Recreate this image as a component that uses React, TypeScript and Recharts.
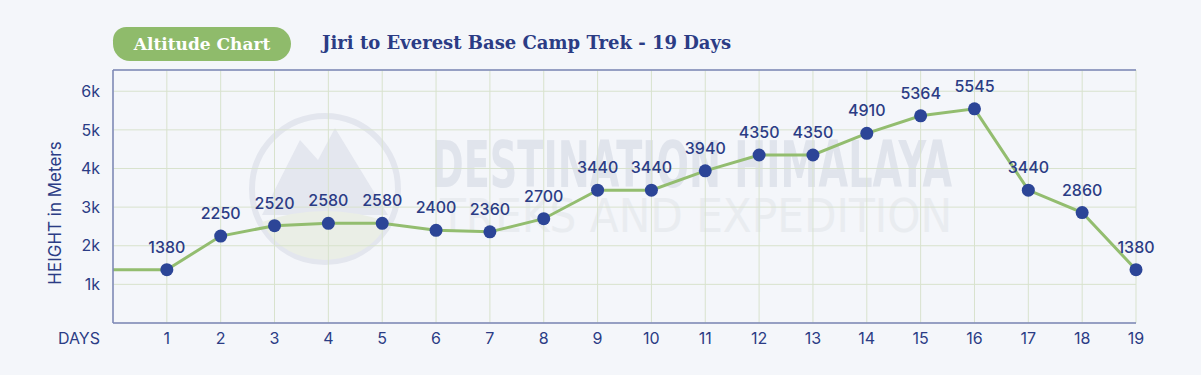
import React from "react";
import {
  LineChart,
  Line,
  XAxis,
  YAxis,
  CartesianGrid,
  ReferenceLine,
  LabelList,
} from "recharts";

// day 0 is only there so the line starts at the left edge, like the original
const DAYS = [0, 1, 2, 3, 4, 5, 6, 7, 8, 9, 10, 11, 12, 13, 14, 15, 16, 17, 18, 19];
const ALTITUDES = [
  1380, 1380, 2250, 2520, 2580, 2580, 2400, 2360, 2700, 3440, 3440, 3940, 4350,
  4350, 4910, 5364, 5545, 3440, 2860, 1380,
];
const DAY_TICKS = [1, 2, 3, 4, 5, 6, 7, 8, 9, 10, 11, 12, 13, 14, 15, 16, 17, 18, 19];
const HEIGHT_TICKS = [1000, 2000, 3000, 4000, 5000, 6000];
const Y_MAX = 6550;

const data = DAYS.map((day, i) => ({ day, altitude: ALTITUDES[i] }));

const NAVY = "#2b3c85";
const DOT = "#2c4597";
const GREEN = "#93bd6f";
const GRID = "#d8e2cd";
const AXIS = "#7b86b8";
const BG = "#f4f6fa";
const FONT = "Inter, 'Noto Sans', sans-serif";

const renderDot = (props: any) => {
  const { cx, cy, payload, index } = props;
  if (payload.day === 0) return <g key={`d${index}`} />;
  return <circle key={`d${index}`} cx={cx} cy={cy} r={6.5} fill={DOT} />;
};

const renderLabel = (props: any) => {
  const { x, y, value, index } = props;
  if (index === 0) return null;
  return (
    <text
      x={x}
      y={y - 17}
      textAnchor="middle"
      fontSize={16}
      fontWeight={500}
      fill={NAVY}
      fontFamily={FONT}
    >
      {value}
    </text>
  );
};

function Watermark() {
  return (
    <svg
      width={1201}
      height={375}
      style={{ position: "absolute", left: 0, top: 0 }}
    >
      <circle cx={325} cy={189} r={73} fill="none" stroke="#e3e6ee" strokeWidth={6} />
      <path
        d="M262 215 L300 140 L318 160 L335 128 L388 215 Z"
        fill="#e4e7ef"
      />
      <path d="M262 222 Q325 200 388 222 Q370 258 325 260 Q280 258 262 222 Z" fill="#eaeee6" />
      <text
        x={432}
        y={187}
        fontSize={64}
        fontWeight="bold"
        fill="#e0e4ec"
        fontFamily="'DejaVu Sans', sans-serif"
        textLength={520}
        lengthAdjust="spacingAndGlyphs"
      >
        DESTINATION HIMALAYA
      </text>
      <text
        x={440}
        y={232}
        fontSize={46}
        fill="#e9ecf0"
        fontFamily="'DejaVu Sans', sans-serif"
        textLength={512}
        lengthAdjust="spacingAndGlyphs"
      >
        TREKS AND EXPEDITION
      </text>
    </svg>
  );
}

export default function App() {
  return (
    <div
      style={{
        position: "relative",
        width: 1201,
        height: 375,
        background: BG,
        overflow: "hidden",
      }}
    >
      <style>{`body{margin:0;}`}</style>
      <Watermark />

      <div
        style={{
          position: "absolute",
          left: 113,
          top: 27,
          width: 178,
          height: 34,
          background: "#8fbb6b",
          borderRadius: "14px 18px 18px 18px",
          color: "#fff",
          fontFamily: "'DejaVu Serif', serif",
          fontWeight: "bold",
          fontSize: 17,
          lineHeight: "34px",
          textAlign: "center",
        }}
      >
        Altitude Chart
      </div>
      <div
        style={{
          position: "absolute",
          left: 322,
          top: 32,
          color: NAVY,
          fontFamily: "'DejaVu Serif', serif",
          fontWeight: "bold",
          fontSize: 18,
          whiteSpace: "nowrap",
        }}
      >
        Jiri to Everest Base Camp Trek - 19 Days
      </div>
      <div
        style={{
          position: "absolute",
          left: 55,
          top: 213,
          transform: "translate(-50%, -50%) rotate(-90deg)",
          color: NAVY,
          fontFamily: FONT,
          fontSize: 17,
          whiteSpace: "nowrap",
        }}
      >
        HEIGHT in Meters
      </div>
      <div
        style={{
          position: "absolute",
          left: 58,
          top: 328,
          color: NAVY,
          fontFamily: FONT,
          fontSize: 16,
          whiteSpace: "nowrap",
        }}
      >
        DAYS
      </div>

      <div style={{ position: "absolute", left: 0, top: 0 }}>
        <LineChart
          width={1201}
          height={375}
          data={data}
          margin={{ top: 70, right: 65, bottom: 22, left: 53 }}
        >
          <CartesianGrid stroke={GRID} strokeWidth={1} />
          <XAxis
            dataKey="day"
            type="number"
            domain={[0, 19]}
            ticks={DAY_TICKS}
            interval={0}
            height={30}
            axisLine={{ stroke: AXIS, strokeWidth: 1.5 }}
            tickLine={false}
            tickMargin={4}
            tick={{ fill: NAVY, fontSize: 16, fontFamily: FONT }}
          />
          <YAxis
            type="number"
            domain={[0, Y_MAX]}
            ticks={HEIGHT_TICKS}
            width={60}
            tickFormatter={(v: number) => `${v / 1000}k`}
            axisLine={{ stroke: AXIS, strokeWidth: 1.5 }}
            tickLine={false}
            tickMargin={7}
            tick={{ fill: NAVY, fontSize: 16, fontFamily: FONT }}
          />
          <ReferenceLine y={Y_MAX} stroke={AXIS} strokeWidth={1.5} />
          <Line
            type="linear"
            dataKey="altitude"
            stroke={GREEN}
            strokeWidth={3}
            dot={renderDot}
            activeDot={false}
            isAnimationActive={false}
          >
            <LabelList dataKey="altitude" content={renderLabel} />
          </Line>
        </LineChart>
      </div>
    </div>
  );
}
